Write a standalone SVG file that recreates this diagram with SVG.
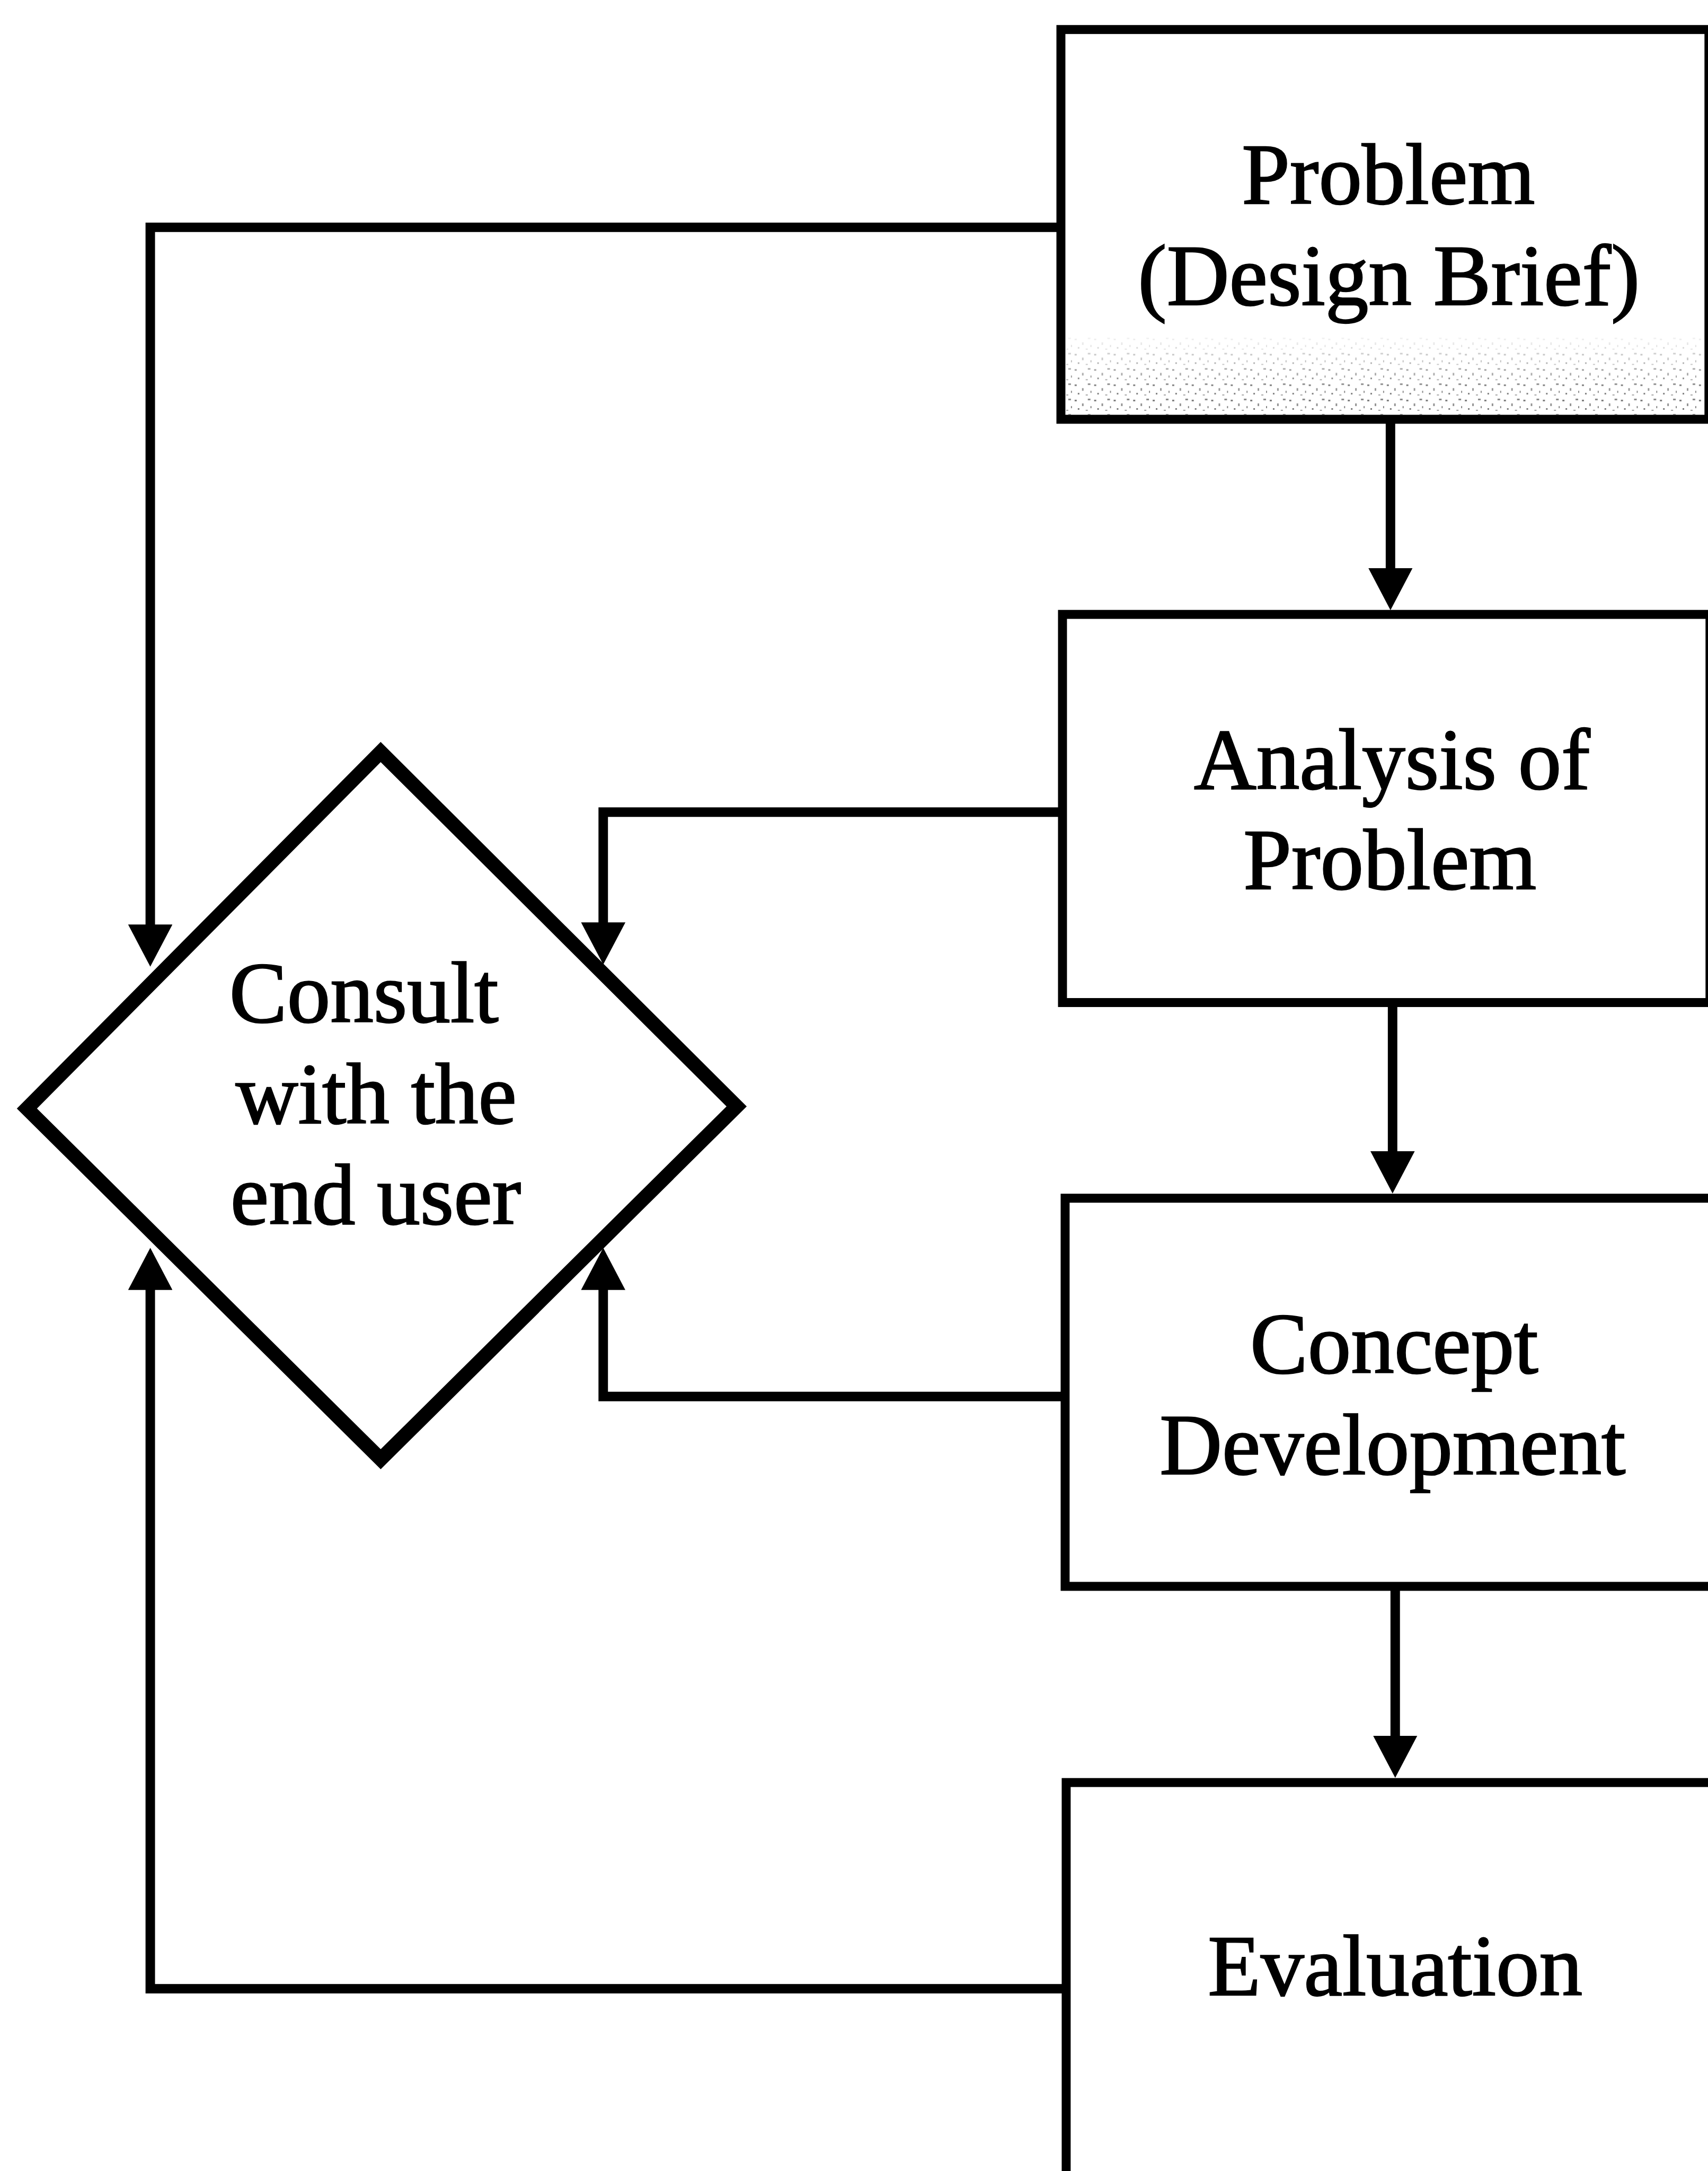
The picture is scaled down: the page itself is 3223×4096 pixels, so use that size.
<svg xmlns="http://www.w3.org/2000/svg" width="3223" height="4096" viewBox="0 0 3223 4096">
<defs>
<style>
.box{fill:#fff;stroke:#000;stroke-width:17;stroke-linejoin:miter}
.dia{fill:#fff;stroke:#000;stroke-width:27;stroke-linejoin:miter;stroke-miterlimit:10}
.lbl{font-family:"Liberation Serif","Times New Roman",serif;font-size:164px;fill:#000;stroke:#000;stroke-width:2.5}
.mid{text-anchor:middle}
.con{fill:none;stroke:#000;stroke-width:18;stroke-linejoin:miter;stroke-linecap:butt}
</style>
<marker id="arr" viewBox="0 0 80 84" markerWidth="80" markerHeight="84" refX="20" refY="42" orient="auto" markerUnits="userSpaceOnUse">
<path d="M0,0 L80,42 L0,84 z" fill="#000"/>
</marker>
<pattern id="speck" width="37" height="29" patternUnits="userSpaceOnUse">
<rect x="3" y="4" width="4" height="3" fill="#555"/>
<rect x="17" y="11" width="3" height="5" fill="#777"/>
<rect x="28" y="2" width="5" height="3" fill="#666"/>
<rect x="9" y="20" width="3" height="3" fill="#555"/>
<rect x="24" y="23" width="4" height="2" fill="#888"/>
<rect x="33" y="16" width="2" height="4" fill="#666"/>
</pattern>
<linearGradient id="fade" x1="0" y1="0" x2="0" y2="1">
<stop offset="0" stop-color="#fff" stop-opacity="0"/>
<stop offset="0.6" stop-color="#fff" stop-opacity="0.85"/>
<stop offset="1" stop-color="#fff" stop-opacity="1"/>
</linearGradient>
<mask id="m1" maskUnits="userSpaceOnUse" x="2020" y="630" width="1215" height="160">
<rect x="2020" y="630" width="1215" height="160" fill="url(#fade)"/>
</mask>
</defs>
<rect x="0" y="0" width="3223" height="4096" fill="#fff"/>
<g transform="scale(0.995)">
<g id="node-problem">
<rect class="box" x="2012" y="56" width="1229" height="739"/>
<g mask="url(#m1)" opacity="0.85">
<rect x="2022" y="635" width="1205" height="152" fill="url(#speck)"/>
</g>
<text class="lbl mid" x="2633" y="386">Problem</text>
<text class="lbl mid" x="2634" y="578">(Design Brief)</text>
</g>
<g id="node-analysis">
<rect class="box" x="2015" y="1165" width="1228" height="736"/>
<text class="lbl mid" x="2640" y="1495">Analysis of</text>
<text class="lbl mid" x="2636" y="1685">Problem</text>
</g>
<g id="node-concept">
<rect class="box" x="2020" y="2272" width="1240" height="736"/>
<text class="lbl mid" x="2644" y="2603">Concept</text>
<text class="lbl mid" x="2641" y="2795">Development</text>
</g>
<g id="node-evaluation">
<rect class="box" x="2022" y="3380" width="1240" height="900"/>
<text class="lbl mid" x="2646" y="3783">Evaluation</text>
</g>
<g id="node-consult">
<polygon class="dia" points="722,1426 1397,2098 722,2767 51,2102"/>
<text class="lbl" x="435" y="1938">Consult</text>
<text class="lbl" x="447" y="2130">with the</text>
<text class="lbl" x="437" y="2321">end user</text>
</g>
<g id="connectors">
<path class="con" d="M2637,795 V1097" marker-end="url(#arr)"/>
<path class="con" d="M2641,1901 V2203" marker-end="url(#arr)"/>
<path class="con" d="M2646,3008 V3311" marker-end="url(#arr)"/>
<path class="con" d="M2012,431 H285 V1773" marker-end="url(#arr)"/>
<path class="con" d="M2015,1540 H1144 V1769" marker-end="url(#arr)"/>
<path class="con" d="M2020,2648 H1144 V2426" marker-end="url(#arr)"/>
<path class="con" d="M2022,3771 H285 V2426" marker-end="url(#arr)"/>
</g>
</g>
</svg>
